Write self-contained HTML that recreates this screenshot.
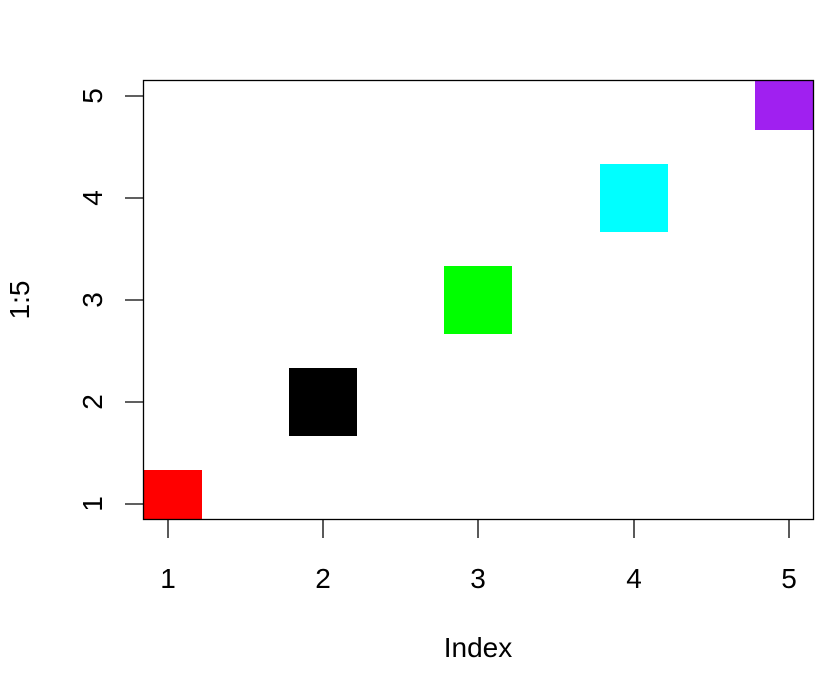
<!DOCTYPE html><html><head><style>body{margin:0;background:#fff}</style></head><body>
<svg width="827" height="694" xmlns="http://www.w3.org/2000/svg" font-family="Liberation Sans, sans-serif" font-size="28">
<defs><clipPath id="c"><rect x="143" y="80" width="671" height="440"/></clipPath></defs>
<g clip-path="url(#c)">
<rect x="134" y="470" width="68" height="68" fill="#ff0000"/>
<rect x="289" y="368" width="68" height="68" fill="#000"/>
<rect x="444" y="266" width="68" height="68" fill="#00ff00"/>
<rect x="600" y="164" width="68" height="68" fill="#00ffff"/>
<rect x="755" y="62" width="68" height="68" fill="#a020f0"/>
</g>
<rect x="143.5" y="80.5" width="670" height="439" fill="none" stroke="#000" stroke-width="1.3"/>
<g stroke="#000" stroke-width="1.3">
<line x1="168" y1="520" x2="168" y2="538"/><line x1="323" y1="520" x2="323" y2="538"/><line x1="478" y1="520" x2="478" y2="538"/><line x1="634" y1="520" x2="634" y2="538"/><line x1="789" y1="520" x2="789" y2="538"/>
<line x1="125" y1="504" x2="143" y2="504"/><line x1="125" y1="402" x2="143" y2="402"/><line x1="125" y1="300" x2="143" y2="300"/><line x1="125" y1="198" x2="143" y2="198"/><line x1="125" y1="96" x2="143" y2="96"/>
</g>
<g text-anchor="middle">
<text x="168" y="588">1</text><text x="323" y="588">2</text><text x="478" y="588">3</text><text x="634" y="588">4</text><text x="789" y="588">5</text>
<text x="478" y="657">Index</text>
<text transform="translate(102,504) rotate(-90)">1</text>
<text transform="translate(102,402) rotate(-90)">2</text>
<text transform="translate(102,300) rotate(-90)">3</text>
<text transform="translate(102,198) rotate(-90)">4</text>
<text transform="translate(102,96) rotate(-90)">5</text>
<text transform="translate(29,300) rotate(-90)">1:5</text>
</g>
</svg></body></html>
